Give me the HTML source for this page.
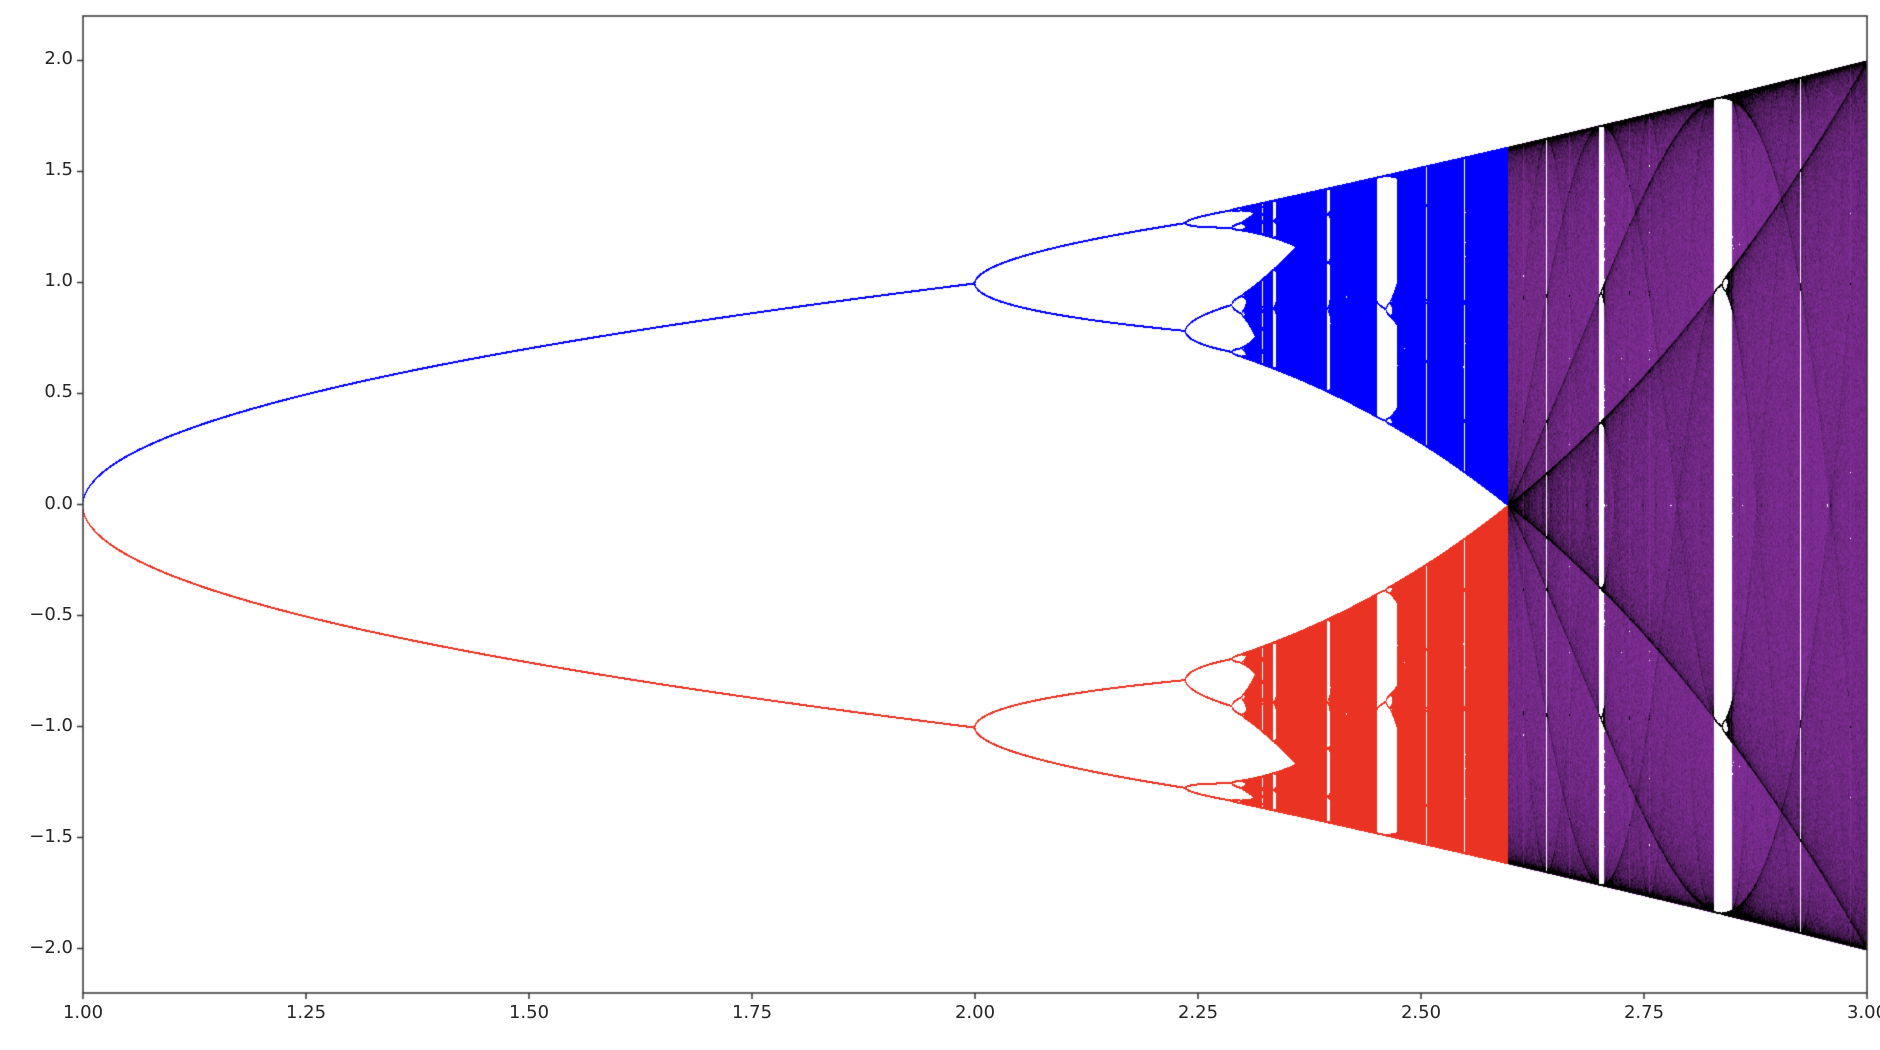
<!DOCTYPE html>
<html><head><meta charset="utf-8">
<style>
html,body{margin:0;padding:0;background:#fff;}
#wrap{position:relative;width:1880px;height:1050px;overflow:hidden;font-family:"DejaVu Sans","Liberation Sans",sans-serif;}
canvas{position:absolute;left:0;top:0;}
.lbl{position:absolute;font-size:18px;color:#262626;white-space:nowrap;}
</style></head>
<body>
<div id="wrap">
<canvas id="cv" width="1880" height="1050"></canvas>
</div>
<script>
// chart data
const xTicks = [1.00, 1.25, 1.50, 1.75, 2.00, 2.25, 2.50, 2.75, 3.00];
const xTickLabels = ["1.00","1.25","1.50","1.75","2.00","2.25","2.50","2.75","3.00"];
const yTicks = [2.0, 1.5, 1.0, 0.5, 0.0, -0.5, -1.0, -1.5, -2.0];
const yTickLabels = ["2.0","1.5","1.0","0.5","0.0","\u22120.5","\u22121.0","\u22121.5","\u22122.0"];
const rRange = [1.0, 3.0];
const yRange = [-2.2, 2.2];
const initialValues = [0.5, -0.5];
const seriesColors = ["#0000ff", "#ea3323"];
const mergeR = [2.598];

const L = 83, R = 1867, T = 16, B = 993;
const W = R - L, H = B - T;
function sx(r){ return L + (r - rRange[0]) / (rRange[1] - rRange[0]) * W; }
function sy(v){ return T + (yRange[1] - v) / (yRange[1] - yRange[0]) * H; }

const cv = document.getElementById('cv');
const ctx = cv.getContext('2d');
ctx.fillStyle = '#fff'; ctx.fillRect(0,0,1880,1050);

const img = ctx.getImageData(0,0,1880,1050);
const d = img.data;
const cnt = [new Float32Array(W*H), new Float32Array(W*H)];
const SUB = 2, NT = 800, NP = 1600;
for (let c = 0; c < W*SUB; c++) {
  const r = rRange[0] + (c + 0.5) / (W*SUB) * (rRange[1] - rRange[0]);
  const px = Math.floor(c / SUB);
  for (let s = 0; s < 2; s++) {
    let x = initialValues[s];
    for (let i = 0; i < NT; i++) x = r*x - x*x*x;
    for (let i = 0; i < NP; i++) {
      x = r*x - x*x*x;
      const py = Math.round(sy(x) - T);
      if (py >= 0 && py < H) {
        cnt[s][py*W + px] += 1;
        if (py+1 < H) cnt[s][(py+1)*W + px] += 0.5;
      }
    }
  }
}
function hex(h){ return [parseInt(h.substr(1,2),16),parseInt(h.substr(3,2),16),parseInt(h.substr(5,2),16)]; }
const cols = seriesColors.map(hex);
const purple = [140, 50, 165];
for (let py = 0; py < H; py++) {
  for (let px = 0; px < W; px++) {
    const k = py*W + px;
    const a = cnt[0][k], b = cnt[1][k];
    if (a === 0 && b === 0) continue;
    const r = rRange[0] + (px + 0.5) / W * (rRange[1] - rRange[0]);
    const o = ((py + T)*1880 + (px + L))*4;
    let col;
    if (r < mergeR[0]) {
      col = b > a ? cols[1] : cols[0];
    } else {
      const tot = a + b;
      let t = Math.min(1, tot / 45);
      col = [purple[0]*(1-t), purple[1]*(1-t), purple[2]*(1-t)];
    }
    d[o]=col[0]; d[o+1]=col[1]; d[o+2]=col[2]; d[o+3]=255;
  }
}
ctx.putImageData(img,0,0);

ctx.strokeStyle = '#333'; ctx.lineWidth = 1.5;
ctx.strokeRect(L, T, W, H);
ctx.beginPath();
const wrap = document.getElementById('wrap');
xTicks.forEach((v, i) => {
  const x = sx(v);
  ctx.moveTo(x, B); ctx.lineTo(x, B + 6);
  const el = document.createElement('div');
  el.className = 'lbl';
  
  
  el.textContent = xTickLabels[i];
  el.style.left = (x - 25) + 'px'; el.style.top = (B + 9) + 'px';
  el.style.width = '50px'; el.style.textAlign = 'center';
  wrap.appendChild(el);
});
yTicks.forEach((v, i) => {
  const y = sy(v);
  ctx.moveTo(L, y); ctx.lineTo(L - 6, y);
  const el = document.createElement('div');
  el.className = 'lbl';
  
  
  el.textContent = yTickLabels[i];
  el.style.left = '0px'; el.style.width = (L - 10) + 'px'; el.style.textAlign = 'right';
  el.style.top = (y - 12) + 'px';
  wrap.appendChild(el);
});
ctx.stroke();
</script>
</body></html>
